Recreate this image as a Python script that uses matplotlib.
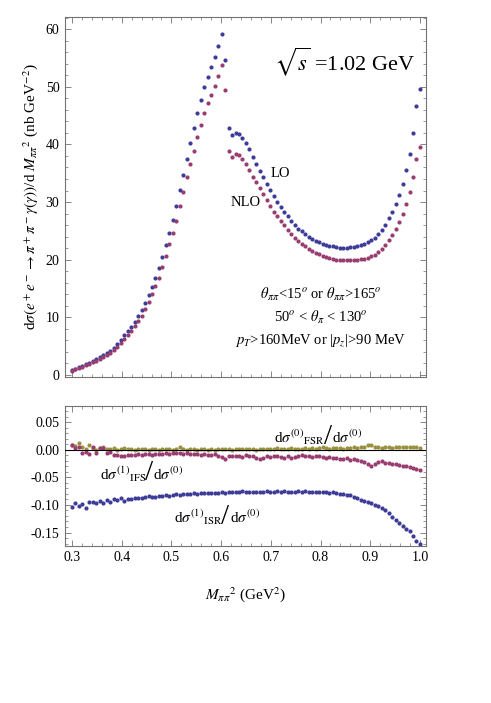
import numpy as np
import matplotlib.pyplot as plt
from matplotlib.ticker import MultipleLocator, FormatStrFormatter

# M_pipi^2 grid (GeV^2), 0.3 .. 1.0 in steps of 0.007
m2 = np.round(np.linspace(0.3, 1.0, 101), 4)

# dsigma/dM^2 (nb GeV^-2)
lo = [0.85, 1.1, 1.35, 1.6, 1.85, 2.1, 2.4, 2.7, 3.05, 3.4,
      3.8, 4.25, 4.75, 5.4, 6.1, 6.9, 7.6, 8.4, 9.2, 10.2,
      11.3, 12.5, 13.9, 15.3, 16.8, 18.5, 20.4, 22.5, 24.6, 26.9,
      29.4, 32.1, 34.7, 37.4, 40.2, 42.8, 45.4, 47.7, 49.9, 51.7,
      53.4, 55.1, 57.1, 59.2, 54.7, 42.8, 41.7, 42.0, 41.8, 41.1,
      40.2, 39.2, 37.8, 36.6, 35.4, 34.4, 33.2, 32.1, 31.0, 30.0,
      29.1, 28.3, 27.5, 26.7, 26.0, 25.4, 24.9, 24.5, 24.0, 23.6,
      23.3, 23.0, 22.8, 22.6, 22.45, 22.3, 22.2, 22.1, 22.1, 22.1,
      22.15, 22.2, 22.35, 22.5, 22.7, 23.0, 23.35, 23.8, 24.4, 25.2,
      26.1, 27.2, 28.3, 29.6, 31.2, 33.2, 35.5, 38.4, 42.0, 46.7,
      49.6]
nlo = [0.78, 1.0, 1.23, 1.46, 1.69, 1.92, 2.2, 2.47, 2.79, 3.11,
       3.48, 3.89, 4.35, 4.94, 5.58, 6.31, 6.95, 7.69, 8.42, 9.33,
       10.3, 11.4, 12.7, 14.0, 15.4, 16.9, 18.7, 20.6, 22.7, 24.6,
       26.8, 29.3, 31.7, 34.3, 36.6, 38.9, 41.2, 43.4, 45.4, 47.2,
       48.6, 50.2, 51.8, 53.8, 49.5, 38.9, 37.9, 38.4, 38.1, 37.5,
       36.6, 35.5, 34.4, 33.5, 32.5, 31.4, 30.3, 29.3, 28.3, 27.6,
       26.8, 26.0, 25.1, 24.4, 23.7, 23.2, 22.7, 22.3, 21.9, 21.5,
       21.2, 20.95, 20.7, 20.5, 20.3, 20.15, 20.0, 19.95, 19.9, 19.9,
       19.9, 19.95, 20.0, 20.05, 20.2, 20.35, 20.6, 20.9, 21.3, 21.9,
       22.6, 23.4, 24.3, 25.3, 26.5, 27.9, 29.6, 31.7, 34.3, 37.5,
       39.6]

# relative corrections
isr = [-0.104, -0.097, -0.101, -0.098, -0.106, -0.095, -0.094, -0.096, -0.093, -0.097,
       -0.091, -0.094, -0.090, -0.091, -0.088, -0.092, -0.089, -0.089, -0.088, -0.088,
       -0.087, -0.086, -0.083, -0.086, -0.085, -0.084, -0.083, -0.082, -0.083, -0.082,
       -0.081, -0.082, -0.080, -0.081, -0.080, -0.079, -0.080, -0.079, -0.079, -0.078,
       -0.079, -0.078, -0.078, -0.077, -0.078, -0.077, -0.076, -0.077, -0.076, -0.075,
       -0.077, -0.076, -0.077, -0.076, -0.076, -0.077, -0.075, -0.076, -0.077, -0.075,
       -0.076, -0.075, -0.076, -0.076, -0.077, -0.075, -0.076, -0.075, -0.076, -0.077,
       -0.076, -0.077, -0.076, -0.077, -0.078, -0.077, -0.079, -0.080, -0.081, -0.082,
       -0.082, -0.086, -0.088, -0.091, -0.092, -0.094, -0.097, -0.100, -0.102, -0.105,
       -0.109, -0.114, -0.121, -0.127, -0.132, -0.138, -0.143, -0.148, -0.156, -0.165,
       -0.171]
ifs = [0.008, 0.004, 0.006, -0.006, -0.004, -0.007, 0.005, -0.005, 0.003, 0.004,
       -0.006, -0.004, -0.010, -0.009, -0.012, -0.011, -0.009, -0.010, -0.009, -0.008,
       -0.009, -0.007, -0.008, -0.009, -0.007, -0.008, -0.007, -0.006, -0.007, -0.006,
       -0.005, -0.006, -0.007, -0.006, -0.007, -0.008, -0.007, -0.009, -0.008, -0.010,
       -0.009, -0.008, -0.011, -0.013, -0.016, -0.012, -0.011, -0.012, -0.011, -0.013,
       -0.010, -0.011, -0.012, -0.014, -0.016, -0.015, -0.012, -0.013, -0.012, -0.012,
       -0.013, -0.014, -0.012, -0.015, -0.013, -0.012, -0.010, -0.011, -0.012, -0.013,
       -0.012, -0.012, -0.013, -0.015, -0.013, -0.014, -0.015, -0.016, -0.016, -0.015,
       -0.018, -0.017, -0.019, -0.021, -0.022, -0.026, -0.029, -0.025, -0.022, -0.021,
       -0.023, -0.024, -0.026, -0.025, -0.028, -0.029, -0.029, -0.031, -0.033, -0.035,
       -0.036]
fsr = [0.009, 0.007, 0.012, 0.006, 0.002, 0.008, 0.003, -0.001, 0.004, 0.005,
       0.001, 0.002, 0.004, 0.000, 0.002, 0.003, 0.001, 0.002, 0.000, 0.001,
       0.002, 0.001, 0.000, 0.002, 0.001, 0.000, 0.002, 0.001, 0.001, 0.000,
       0.002, 0.006, 0.001, 0.000, 0.001, 0.001, 0.000, 0.001, 0.002, 0.000,
       0.001, 0.000, 0.001, 0.002, 0.001, 0.001, 0.000, 0.002, 0.001, 0.001,
       0.002, 0.001, 0.002, 0.000, 0.001, 0.002, 0.001, 0.002, 0.001, 0.003,
       0.002, 0.001, 0.002, 0.003, 0.002, 0.001, 0.002, 0.003, 0.002, 0.003,
       0.002, 0.004, 0.006, 0.003, 0.002, 0.003, 0.004, 0.003, 0.002, 0.004,
       0.003, 0.005, 0.004, 0.006, 0.005, 0.008, 0.009, 0.006, 0.005, 0.004,
       0.006, 0.005, 0.004, 0.006, 0.005, 0.006, 0.005, 0.006, 0.005, 0.006,
       0.004]

# Mathematica default colours
c_blue = (0.24, 0.24, 0.6)
c_mag = (0.6, 0.24, 0.442)
c_gold = (0.6, 0.57, 0.24)

plt.rcParams['font.family'] = ['Liberation Serif', 'DejaVu Serif']
plt.rcParams['mathtext.fontset'] = 'stix'


def ratio_label(ax, x, y, num, den):
    """numerator / denominator with a tall slash centred at (x, y)"""
    ax.annotate(num, (x, y), xytext=(-2.5, -4.5), textcoords='offset points',
                ha='right', va='baseline', fontsize=11)
    ax.annotate('/', (x, y), xytext=(0, 0), textcoords='offset points',
                ha='center', va='center', fontsize=21)
    ax.annotate(den, (x, y), xytext=(3, -4.5), textcoords='offset points',
                ha='left', va='baseline', fontsize=11)


fig = plt.figure(figsize=(4.91, 7.03), dpi=100)
ax1 = fig.add_axes([0.1324, 0.4637, 0.7346, 0.5121])
ax2 = fig.add_axes([0.1324, 0.2237, 0.7346, 0.1988])

ms = 3.0
ax1.plot(m2, lo, 'o', color=c_blue, ms=ms, mec='none')
ax1.plot(m2, nlo, 'o', color=c_mag, ms=ms, mec='none')

ax2.plot(m2, fsr, 'o', color=c_gold, ms=ms, mec='none')
ax2.plot(m2, ifs, 'o', color=c_mag, ms=ms, mec='none')
ax2.plot(m2, isr, 'o', color=c_blue, ms=ms, mec='none')
ax2.axhline(0, color='black', lw=0.8, zorder=3)

for ax in (ax1, ax2):
    ax.set_xlim(0.286, 1.0115)
    ax.xaxis.set_major_locator(MultipleLocator(0.1))
    ax.xaxis.set_minor_locator(MultipleLocator(0.02))
    ax.tick_params(which='both', direction='in', top=True, right=True,
                   color='0.45', labelsize=10, pad=4)
    ax.tick_params(which='major', length=4.5, width=0.6)
    ax.tick_params(which='minor', length=2.3, width=0.5)
    for s in ax.spines.values():
        s.set_color('0.45')
        s.set_linewidth(0.8)

ax1.set_ylim(-0.35, 62.1)
ax1.yaxis.set_major_locator(MultipleLocator(10))
ax1.yaxis.set_minor_locator(MultipleLocator(2))
ax1.tick_params(labelbottom=False)
ax1.set_ylabel(r'd$\sigma(e^+e^-\rightarrow\pi^+\pi^-\gamma(\gamma))$/d $M_{\pi\pi}{}^{2}$ (nb GeV$^{-2}$)',
               fontsize=11, labelpad=4)

ax2.set_ylim(-0.174, 0.0796)
ax2.yaxis.set_major_locator(MultipleLocator(0.05))
ax2.yaxis.set_minor_locator(MultipleLocator(0.01))
ax2.yaxis.set_major_formatter(FormatStrFormatter('%.2f'))
ax2.set_xlabel(r'$M_{\pi\pi}{}^{2}$ (GeV$^{2}$)', fontsize=11, labelpad=15)

# annotations, top panel
ax1.text(0.97, 0.875, r'$\sqrt{s}$ =1.02 GeV', transform=ax1.transAxes,
         ha='right', va='center', fontsize=16)
ax1.text(0.700, 35.0, 'LO', ha='left', va='center', fontsize=10.5)
ax1.text(0.620, 30.0, 'NLO', ha='left', va='center', fontsize=10.5)
ax1.text(0.80, 14.0, r'$\theta_{\pi\pi}$<15$^{o}$ or $\theta_{\pi\pi}$>165$^{o}$',
         ha='center', va='center', fontsize=10.5)
ax1.text(0.80, 10.0, r'50$^{o}$ < $\theta_{\pi}$ < 130$^{o}$',
         ha='center', va='center', fontsize=10.5)
ax1.text(0.80, 6.0, r'$p_T$>160MeV or |$p_z$|>90 MeV',
         ha='center', va='center', fontsize=10.5)

# annotations, bottom panel
ratio_label(ax2, 0.815, 0.024, r'd$\sigma^{(0)}{}_{\mathrm{FSR}}$', r'd$\sigma^{(0)}$')
ratio_label(ax2, 0.4556, -0.0427, r'd$\sigma^{(1)}{}_{\mathrm{IFS}}$', r'd$\sigma^{(0)}$')
ratio_label(ax2, 0.6085, -0.1215, r'd$\sigma^{(1)}{}_{\mathrm{ISR}}$', r'd$\sigma^{(0)}$')

fig.savefig('out.png', dpi=100)
